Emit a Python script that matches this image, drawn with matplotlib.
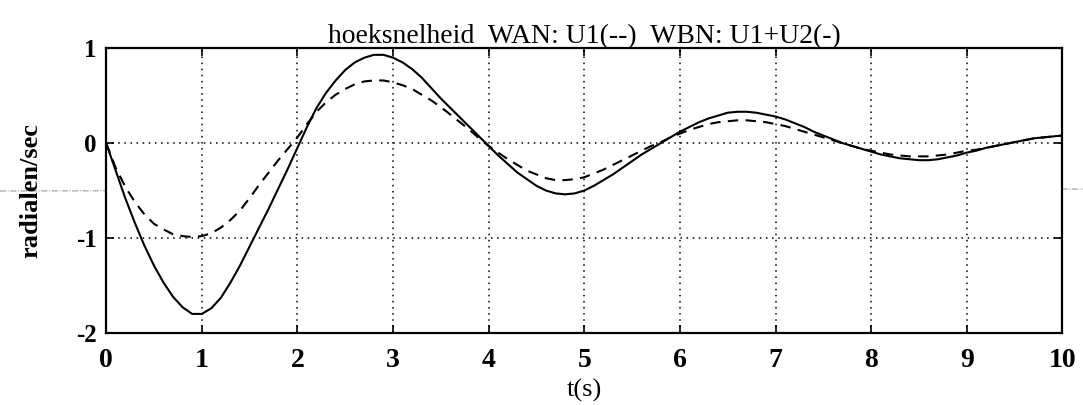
#!/usr/bin/env python3
"""Hoeksnelheid WAN/WBN response plot (MATLAB style scan)."""
import matplotlib
matplotlib.use('Agg')
import matplotlib.pyplot as plt
from matplotlib.lines import Line2D

# time axis (s), 0.1 s steps
t = [round(i * 0.1, 1) for i in range(101)]

# WBN: U1+U2 (solid)
wbn = [0.00, -0.29, -0.58, -0.84, -1.08, -1.29, -1.47, -1.62, -1.73, -1.80,
       -1.80, -1.74, -1.63, -1.47, -1.29, -1.09, -0.89, -0.69, -0.48, -0.27,
       -0.05, 0.17, 0.37, 0.53, 0.66, 0.77, 0.85, 0.90, 0.93, 0.93,
       0.90, 0.85, 0.78, 0.69, 0.58, 0.47, 0.37, 0.27, 0.17, 0.07,
       -0.03, -0.13, -0.22, -0.31, -0.38, -0.45, -0.50, -0.53, -0.54, -0.53,
       -0.50, -0.45, -0.39, -0.33, -0.26, -0.19, -0.12, -0.06, 0.00, 0.06,
       0.12, 0.17, 0.22, 0.26, 0.29, 0.32, 0.33, 0.33, 0.32, 0.30,
       0.28, 0.25, 0.21, 0.17, 0.12, 0.08, 0.04, 0.00, -0.03, -0.06,
       -0.09, -0.12, -0.14, -0.16, -0.17, -0.18, -0.18, -0.17, -0.15, -0.13,
       -0.10, -0.08, -0.05, -0.03, -0.01, 0.01, 0.03, 0.05, 0.06, 0.07, 0.08]

# WAN: U1 (dashed)
wan = [0.00, -0.26, -0.46, -0.62, -0.75, -0.85, -0.91, -0.96, -0.98, -0.99,
       -0.98, -0.95, -0.89, -0.81, -0.71, -0.58, -0.44, -0.31, -0.18, -0.06,
       0.06, 0.20, 0.33, 0.43, 0.51, 0.57, 0.62, 0.65, 0.66, 0.66,
       0.64, 0.61, 0.57, 0.51, 0.45, 0.38, 0.30, 0.22, 0.14, 0.05,
       -0.03, -0.10, -0.17, -0.23, -0.29, -0.33, -0.37, -0.39, -0.39, -0.38,
       -0.36, -0.32, -0.28, -0.23, -0.18, -0.13, -0.08, -0.03, 0.01, 0.06,
       0.10, 0.14, 0.17, 0.20, 0.22, 0.23, 0.24, 0.24, 0.23, 0.22,
       0.20, 0.18, 0.15, 0.12, 0.09, 0.06, 0.03, 0.00, -0.03, -0.06,
       -0.08, -0.10, -0.12, -0.13, -0.14, -0.14, -0.14, -0.13, -0.12, -0.10,
       -0.08, -0.07, -0.05, -0.03, -0.01, 0.01, 0.03, 0.05, 0.06, 0.07, 0.08]

xticks = [0, 1, 2, 3, 4, 5, 6, 7, 8, 9, 10]
yticks = [-2, -1, 0, 1]

plt.rcParams['font.family'] = ['Liberation Serif', 'DejaVu Serif']

fig = plt.figure(figsize=(10.83, 4.05), dpi=100)
ax = fig.add_axes([0.098, 0.178, 0.883, 0.703])

ax.plot(t, wbn, color='black', lw=1.5, ls='-')
ax.plot(t, wan, color='black', lw=1.5, ls=(0, (5, 3.5)))

ax.set_xlim(0, 10)
ax.set_ylim(-2, 1)
ax.set_xticks(xticks)
ax.set_yticks(yticks)
ax.set_xticklabels([str(v) for v in xticks], fontsize=20, fontweight='bold')
ax.set_yticklabels([str(v) for v in yticks], fontsize=18, fontweight='bold')
ax.tick_params(direction='in', top=True, right=True, length=6, width=1.2, pad=7)
ax.tick_params(axis='x', pad=11)

ax.grid(True, color='black', ls=(0, (1, 3)), lw=1.1)
for s in ax.spines.values():
    s.set_linewidth(1.6)

ax.set_title('hoeksnelheid  WAN: U1(--)  WBN: U1+U2(-)', fontsize=20, pad=4)
ax.set_xlabel('t(s)', fontsize=19, labelpad=4)
ax.set_ylabel('radialen/sec', fontsize=19, fontweight='bold', labelpad=24)

# faint scan line across the page
fig.add_artist(Line2D([0, 1], [1 - 191 / 405, 1 - 189 / 405],
                      color='0.55', lw=0.7, ls='-.', zorder=0))

fig.savefig('out.png', dpi=100)
